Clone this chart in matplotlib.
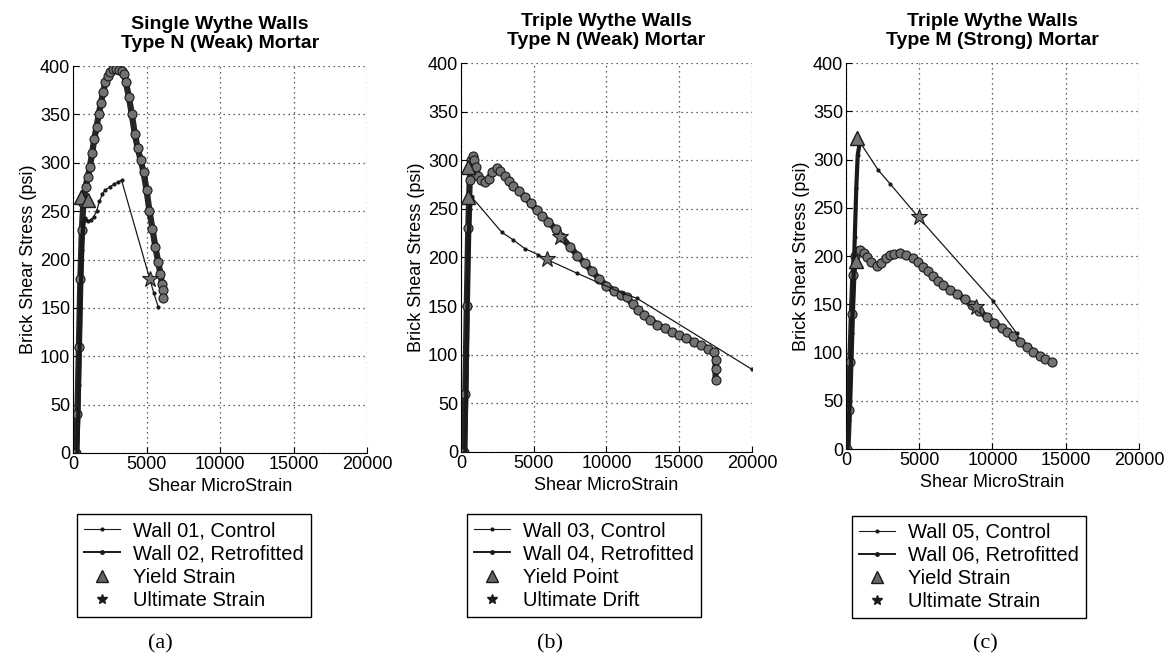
import matplotlib
matplotlib.use("Agg")
import matplotlib.pyplot as plt
from matplotlib.lines import Line2D

plt.rcParams['font.family'] = ['Liberation Sans', 'DejaVu Sans']

# ---- panel (a): single wythe, type N mortar
a_ctrl_x = [300, 400, 500, 600, 700, 800, 900, 1050, 1200, 1400, 1600, 1800, 2000, 2200, 2500, 2800, 3050, 3300, 5200, 5500, 5800]
a_ctrl_y = [0, 70, 150, 210, 238, 243, 241, 240, 241, 244, 250, 260, 268, 272, 275, 278, 280, 282, 181, 165, 151]
a_retro_x = [200, 300, 400, 500, 600, 700, 850, 1000, 1150, 1300, 1450, 1600, 1750, 1900, 2050, 2200, 2350, 2500, 2700, 2900,
             3100, 3300, 3450, 3600, 3800, 4000, 4200, 4400, 4600, 4800, 5000, 5200, 5400, 5600, 5800, 5950, 6050, 6150, 6150]
a_retro_y = [0, 40, 110, 180, 230, 258, 275, 285, 296, 310, 325, 337, 350, 362, 373, 383, 390, 394, 397, 397,
             396, 395, 392, 383, 368, 350, 330, 315, 303, 290, 272, 250, 232, 213, 197, 185, 175, 168, 160]
a_yield_x = [550, 1050]
a_yield_y = [265, 262]
a_ult_x = [5250]
a_ult_y = [180]
a_rise_n = 5  # control points on the dense loading branch

# ---- panel (b): triple wythe, type N mortar
b_ctrl_x = [300, 400, 500, 600, 750, 2800, 3600, 4400, 5300, 5900, 7950, 11150, 12100, 20000]
b_ctrl_y = [0, 100, 200, 250, 262, 226, 218, 209, 203, 198, 184, 163, 158, 85]
b_retro_x = [200, 300, 400, 500, 600, 700, 800, 900, 1000, 1200, 1400, 1650, 1900, 2150, 2450, 2700, 3000, 3300, 3600, 4000,
             4400, 4800, 5200, 5600, 6000, 6500, 6900, 7500, 8000, 8500, 9000, 9500, 10000, 10500, 11000, 11400, 11800,
             12200, 12600, 13000, 13500, 14000, 14500, 15000, 15500, 16000, 16500, 17000, 17400, 17500, 17500, 17500]
b_retro_y = [0, 60, 150, 230, 280, 300, 304, 300, 293, 284, 280, 278, 281, 288, 292, 289, 284, 279, 274, 268,
             262, 256, 249, 243, 237, 229, 221, 211, 202, 194, 186, 178, 171, 166, 161, 159, 152,
             146, 141, 136, 131, 127, 123, 120, 117, 113, 110, 106, 103, 95, 85, 74]
b_yield_x = [500, 500]
b_yield_y = [293, 262]
b_ult_x = [5900, 6800]
b_ult_y = [198, 221]
b_rise_n = 5

# ---- panel (c): triple wythe, type M mortar
c_ctrl_x = [100, 200, 300, 400, 500, 600, 700, 800, 950, 2200, 3000, 4950, 10050, 11650]
c_ctrl_y = [0, 30, 70, 120, 170, 220, 270, 305, 318, 289, 275, 240, 153, 120]
c_retro_x = [100, 200, 300, 400, 500, 600, 800, 955, 1200, 1400, 1700, 2090, 2400, 2700, 3000, 3300, 3690, 4100, 4590,
             4900, 5280, 5600, 5960, 6300, 6640, 7100, 7560, 8100, 8580, 9100, 9600, 10100, 10630, 11000, 11420,
             11900, 12330, 12800, 13240, 13600, 14040]
c_retro_y = [0, 40, 90, 140, 180, 200, 205, 206, 203, 199, 194, 190, 193, 198, 201, 202, 203, 201, 198,
             194, 189, 184, 179, 174, 170, 165, 161, 155, 149, 143, 137, 131, 125, 121, 117,
             111, 106, 101, 96, 93, 90]
c_yield_x = [750, 650]
c_yield_y = [322, 195]
c_ult_x = [4950, 8900]
c_ult_y = [240, 147]
c_rise_n = 9

panels = [
    ("Single Wythe Walls\nType N (Weak) Mortar", a_ctrl_x, a_ctrl_y, a_rise_n, a_retro_x, a_retro_y,
     a_yield_x, a_yield_y, a_ult_x, a_ult_y,
     ["Wall 01, Control", "Wall 02, Retrofitted", "Yield Strain", "Ultimate Strain"], "(a)"),
    ("Triple Wythe Walls\nType N (Weak) Mortar", b_ctrl_x, b_ctrl_y, b_rise_n, b_retro_x, b_retro_y,
     b_yield_x, b_yield_y, b_ult_x, b_ult_y,
     ["Wall 03, Control", "Wall 04, Retrofitted", "Yield Point", "Ultimate Drift"], "(b)"),
    ("Triple Wythe Walls\nType M (Strong) Mortar", c_ctrl_x, c_ctrl_y, c_rise_n, c_retro_x, c_retro_y,
     c_yield_x, c_yield_y, c_ult_x, c_ult_y,
     ["Wall 05, Control", "Wall 06, Retrofitted", "Yield Strain", "Ultimate Strain"], "(c)"),
]

# axes rectangles (figure fraction), legend anchors, caption positions
rects = [[0.0621, 0.3229, 0.2500, 0.5784],
         [0.3920, 0.3244, 0.2474, 0.5814],
         [0.7194, 0.3288, 0.2491, 0.5770]]
leg_anchor = [(0.0655, 0.231), (0.397, 0.231), (0.7245, 0.229)]
cap_x = [0.136, 0.468, 0.838]

fig = plt.figure(figsize=(11.76, 6.69), dpi=100)

for i, (title, cx, cy, nr, rx, ry, yx, yy, ux, uy, labels, cap) in enumerate(panels):
    ax = fig.add_axes(rects[i])
    ax.plot(rx, ry, '-o', color='0.15', lw=4.5, ms=6.5, mfc='0.45', mec='0.1', mew=0.8, zorder=2)
    ax.plot(cx[:nr], cy[:nr], '-', color='0.1', lw=3, zorder=3)
    ax.plot(cx, cy, '-', color='0.1', lw=0.9, marker='.', ms=4, zorder=3)
    ax.plot(yx, yy, '^', ms=10, mfc='0.45', mec='0.1', mew=1, zorder=4)
    ax.plot(ux, uy, '*', ms=12, mfc='0.45', mec='0.1', mew=0.8, zorder=4)

    ax.set_xlim(0, 20000)
    ax.set_ylim(0, 400)
    ax.set_xticks([0, 5000, 10000, 15000, 20000])
    ax.set_yticks(range(0, 401, 50))
    ax.grid(True, color='0.2', lw=0.9, linestyle=(0, (1, 3)))
    ax.spines['top'].set_visible(False)
    ax.spines['right'].set_visible(False)
    ax.tick_params(direction='in', length=4, pad=2, labelsize=13)
    ax.set_title(title, fontsize=14, fontweight='bold', pad=13, linespacing=1.15)
    ax.set_ylabel("Brick Shear Stress (psi)", fontsize=13, labelpad=2)
    ax.set_xlabel("Shear MicroStrain", fontsize=13, labelpad=4)

    handles = [
        Line2D([], [], color='0.1', lw=0.8, marker='.', ms=4),
        Line2D([], [], color='0.1', lw=1.4, marker='.', ms=5),
        Line2D([], [], ls='none', marker='^', ms=8, mfc='0.4', mec='0.1'),
        Line2D([], [], ls='none', marker='*', ms=7, mfc='0.1', mec='0.1'),
    ]
    fig.legend(handles, labels, loc='upper left', bbox_to_anchor=leg_anchor[i],
               borderaxespad=0, fontsize=14.5, frameon=True, fancybox=False, edgecolor='black',
               framealpha=1, handlelength=1.8, handletextpad=0.65, labelspacing=0.2,
               borderpad=0.35)
    fig.text(cap_x[i], 0.037, cap, fontsize=16, family='Liberation Serif', ha='center', va='center')

fig.savefig("out.png", dpi=100)
